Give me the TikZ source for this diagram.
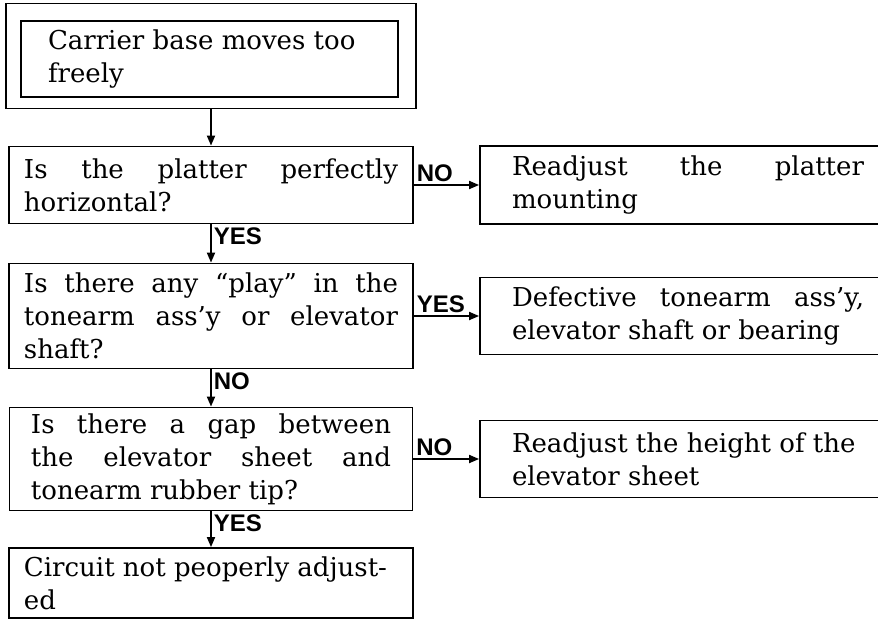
\documentclass[tikz,border=0pt]{standalone}
\usepackage{fontspec}
\setmainfont{DejaVu Serif}
\newfontfamily\tagfont{Liberation Sans}
\usetikzlibrary{arrows.meta}
\tikzset{
  stepbox/.style={draw, line width=0.9pt, align=justify, inner xsep=7.5pt, inner ysep=0pt, font=\fontsize{13}{16.5}\selectfont},
  qbox/.style={stepbox, text width=187pt, minimum width=201.5pt},
  fixbox/.style={stepbox, text width=176pt, minimum width=208pt},
  flow/.style={line width=0.9pt, -{Triangle[length=5pt,width=4pt]}},
  answer/.style={font=\tagfont\bfseries\fontsize{12}{12}\selectfont, inner sep=1pt}
}

\begin{document}
\begin{tikzpicture}[x=0.5pt, y=-0.5pt]
  \useasboundingbox (0,0) rectangle (878,628);
  \clip (0,0) rectangle (878,628);

  \node[draw, line width=0.9pt, minimum width=205pt, minimum height=52.5pt] (startframe) at (211,56) {};
  \node[stepbox, text width=161.5pt, minimum width=188.5pt, minimum height=38pt] (start) at (209.5,59) {Carrier base moves too\\freely};

  \node[qbox, minimum height=38.5pt] (q1) at (211,185) {Is the platter perfectly\linebreak horizontal?};
  \node[qbox, minimum height=52.5pt] (q2) at (211,316) {Is there any ``play'' in the\linebreak tonearm ass'y or elevator\linebreak shaft?};
  \node[qbox, text width=180pt, minimum height=51.5pt] (q3) at (211,459) {Is there a gap between\linebreak the elevator sheet and\linebreak tonearm rubber tip?};
  \node[qbox, minimum height=35pt] (q4) at (211,583) {Circuit not peoperly adjust-\\ed};

  \node[fixbox, minimum height=39pt] (r1) at (688,185) {Readjust the platter\linebreak mounting};
  \node[fixbox, minimum height=38.5pt] (r2) at (688,316) {Defective tonearm ass'y,\linebreak elevator shaft or bearing};
  \node[fixbox, minimum height=38.5pt] (r3) at (688,459) {Readjust the height of the\\elevator sheet};

  \draw[flow] (startframe.south) -- (q1.north);
  \draw[flow] (q1.south) -- node[answer, pos=0, anchor=north west] (a1) {YES} (q2.north);
  \draw[flow] (q2.south) -- node[answer, pos=0, anchor=north west] (a2) {NO} (q3.north);
  \draw[flow] (q3.south) -- node[answer, pos=0, anchor=north west] (a3) {YES} (q4.north);

  \draw[flow] (q1.east) -- node[answer, pos=0, anchor=south west] (b1) {NO} (r1.west);
  \draw[flow] (q2.east) -- node[answer, pos=0, anchor=south west] (b2) {YES} (r2.west);
  \draw[flow] (q3.east) -- node[answer, pos=0, anchor=south west] (b3) {NO} (r3.west);
\end{tikzpicture}
\end{document}
